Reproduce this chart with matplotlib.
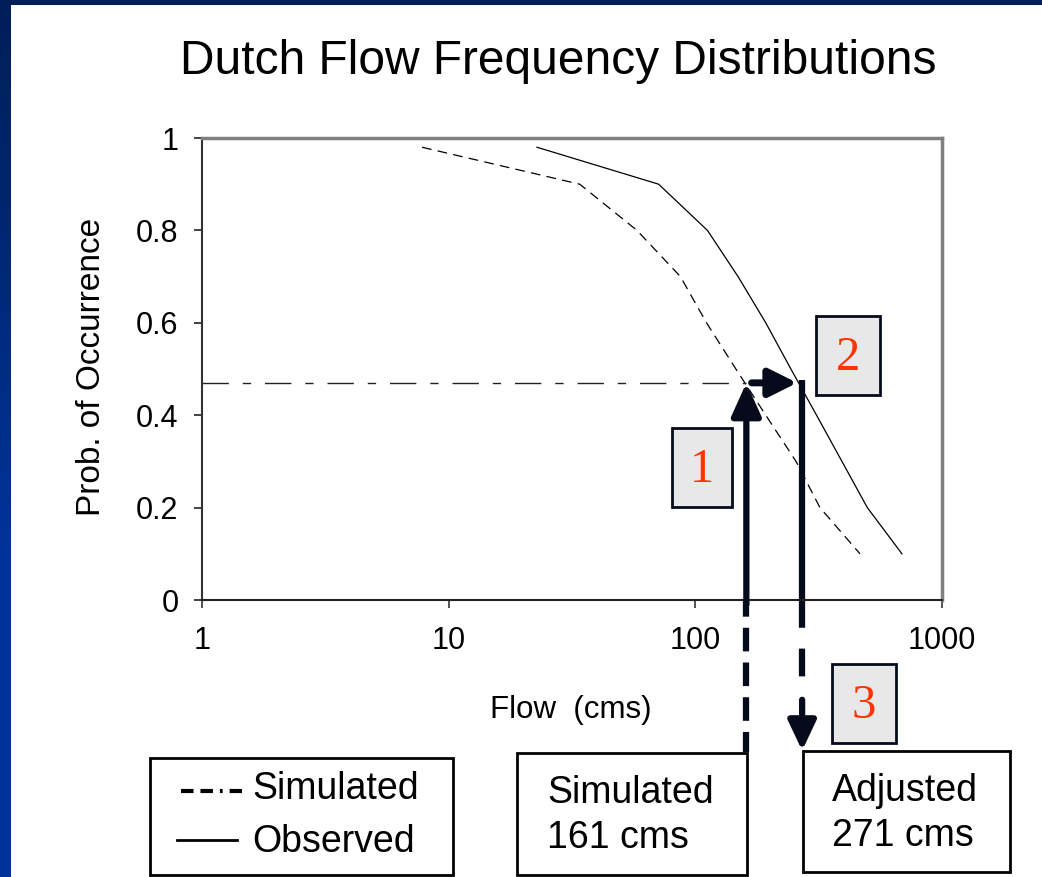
import numpy as np
import matplotlib.pyplot as plt
from matplotlib.patches import Rectangle
from matplotlib.colors import LinearSegmentedColormap
from matplotlib.ticker import FixedLocator, FixedFormatter, NullLocator

plt.rcParams['font.family'] = ['Liberation Sans', 'DejaVu Sans']
plt.rcParams['lines.scale_dashes'] = False

# flow duration curves (flow in cms vs probability of occurrence)
sim_flow = [7.8, 34, 58, 87, 111, 146, 193, 256, 320, 465]
sim_prob = [0.98, 0.9, 0.8, 0.7, 0.6, 0.5, 0.4, 0.3, 0.2, 0.1]
obs_flow = [22.8, 71, 112, 149, 193, 244, 310, 393, 498, 688]
obs_prob = [0.98, 0.9, 0.8, 0.7, 0.6, 0.5, 0.4, 0.3, 0.2, 0.1]

target_prob = 0.47
sim_value = 161
adj_value = 271

x_ticks = [1, 10, 100, 1000]
x_labels = ['1', '10', '100', '1000']
y_ticks = [0, 0.2, 0.4, 0.6, 0.8, 1]
y_labels = ['0', '0.2', '0.4', '0.6', '0.8', '1']

W, H = 1042, 877
navy = '#060b1c'
fig = plt.figure(figsize=(W / 100, H / 100), dpi=100)

# main chart
ax = fig.add_axes([202 / W, 1 - 600 / H, 740 / W, 462 / H])
ax.set_xscale('log')
ax.set_xlim(1, 1000)
ax.set_ylim(0, 1)
ax.plot(sim_flow, sim_prob, color='black', lw=0.9, linestyle=(0, (7, 4.5)))
ax.plot(obs_flow, obs_prob, color='black', lw=0.9)

ax.xaxis.set_major_locator(FixedLocator(x_ticks))
ax.xaxis.set_major_formatter(FixedFormatter(x_labels))
ax.xaxis.set_minor_locator(NullLocator())
ax.yaxis.set_major_locator(FixedLocator(y_ticks))
ax.yaxis.set_major_formatter(FixedFormatter(y_labels))
ax.tick_params(axis='x', direction='out', length=6, width=1.2, color='#333333',
               labelsize=22, pad=13)
ax.tick_params(axis='y', direction='out', length=6, width=1.2, color='#222222',
               labelsize=22, pad=11)
ax.spines['left'].set_color('#333333')
ax.spines['left'].set_linewidth(1.5)
ax.spines['bottom'].set_color('#222222')
ax.spines['bottom'].set_linewidth(1.5)
for s in ['top', 'right']:
    ax.spines[s].set_color('#808080')
    ax.spines[s].set_linewidth(2.5)

# horizontal reading line at the target probability
ax.plot([1, sim_value], [target_prob, target_prob], color='#222222', lw=1,
        linestyle=(0, (19, 10, 6, 10)))

# step 1: simulated flow up to the curve
ax.plot([sim_value, sim_value], [0, -0.33], color=navy, lw=4.5,
        linestyle=(5, (17, 8)), clip_on=False)
ax.annotate('', xy=(sim_value, target_prob), xytext=(sim_value, -0.01),
            arrowprops=dict(arrowstyle='-|>,head_length=2.0,head_width=0.9',
                            lw=4.5, color=navy, shrinkA=0, shrinkB=0),
            annotation_clip=False)

# step 2: across to the observed curve
ax.annotate('', xy=(adj_value * 0.955, target_prob),
            xytext=(sim_value * 1.05, target_prob),
            arrowprops=dict(arrowstyle='-|>,head_length=1.7,head_width=0.85',
                            lw=5, color=navy, shrinkA=0, shrinkB=0))

# step 3: down to the adjusted flow
ax.plot([adj_value, adj_value], [target_prob + 0.007, 0], color=navy, lw=4.5,
        solid_capstyle='butt')
ax.plot([adj_value, adj_value], [0, -0.168], color=navy, lw=4.5,
        linestyle=(0, (20, 15)), clip_on=False)
ax.annotate('', xy=(adj_value, -0.326), xytext=(adj_value, -0.216),
            arrowprops=dict(arrowstyle='-|>,head_length=1.8,head_width=0.85',
                            lw=4.5, color=navy, shrinkA=0, shrinkB=0),
            annotation_clip=False)

fig.text(558 / W, 1 - 62 / H, 'Dutch Flow Frequency Distributions',
         fontsize=34.5, ha='center', va='center')
fig.text(571 / W, 1 - 710 / H, 'Flow  (cms)', fontsize=22.5,
         ha='center', va='center')
fig.text(92 / W, 1 - 367 / H, 'Prob. of Occurrence', fontsize=24,
         rotation=90, ha='center', va='center')

# overlay in pixel coordinates for slide decorations
ov = fig.add_axes([0, 0, 1, 1], zorder=10)
ov.axis('off')
ov.patch.set_alpha(0)

blue = LinearSegmentedColormap.from_list('b', ['#001e58', '#003399'])
grad = np.clip(np.linspace(0, 1.6, 200), 0, 1).reshape(-1, 1)
ov.imshow(grad, cmap=blue, extent=[0, 11, H, 0], aspect='auto')
ov.add_patch(Rectangle((0, 0), W, 5, color='#001e58', lw=0))
ov.set_xlim(0, W)
ov.set_ylim(H, 0)


def step_box(x0, y0, x1, y1, label):
    ov.add_patch(Rectangle((x0, y0), x1 - x0, y1 - y0, facecolor='#e8e8e8',
                           edgecolor=navy, lw=2))
    ov.text((x0 + x1) / 2, (y0 + y1) / 2 + 2, label, color='#ff3300',
            fontsize=35, family='Liberation Serif', ha='center', va='center')


step_box(672, 428, 732, 507, '1')
step_box(816, 316, 880, 395, '2')
step_box(832, 664, 896, 743, '3')

# value boxes
ov.add_patch(Rectangle((517, 753), 230, 122, facecolor='white',
                       edgecolor='black', lw=2))
ov.text(547, 793, 'Simulated', fontsize=27, va='center')
ov.text(547, 838, '161 cms', fontsize=27, va='center')
ov.add_patch(Rectangle((803, 751), 207, 121, facecolor='white',
                       edgecolor='black', lw=2))
ov.text(832, 791, 'Adjusted', fontsize=27, va='center')
ov.text(832, 836, '271 cms', fontsize=27, va='center')

# legend box
ov.add_patch(Rectangle((150, 758), 303, 117, facecolor='white',
                       edgecolor='black', lw=2))
ov.plot([181, 242], [791, 791], color='black', lw=3,
        linestyle=(0, (9, 5, 9, 5, 2, 5)))
ov.plot([177, 237], [840, 840], color='black', lw=2)
ov.text(252, 789, 'Simulated', fontsize=27, va='center')
ov.text(252, 842, 'Observed', fontsize=27, va='center')

fig.savefig('out.png', dpi=100)
